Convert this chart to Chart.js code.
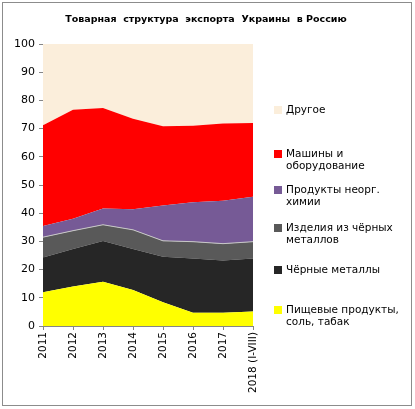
<!DOCTYPE html>
<html>
<head>
<meta charset="utf-8">
<script src="https://cdn.jsdelivr.net/npm/chart.js@4/dist/chart.umd.min.js"></script>
<style>
    html, body { margin: 0; padding: 0; background: #fff; }
    #wrap { width: 415px; height: 409px; position: relative; }
</style>
</head>
<body>
<div id="wrap"><canvas id="exportChart" width="415" height="409"></canvas></div>
<script>
// Годы
const years = ['2011', '2012', '2013', '2014', '2015', '2016', '2017', '2018 (I-VIII)'];

// Доли, % (снизу вверх)
const food      = [12.0, 14.0, 15.7, 12.8, 8.4, 4.7, 4.7, 5.1];
const ferrous   = [12.3, 13.3, 14.4, 14.5, 16.2, 19.2, 18.5, 18.8];
const steelWare = [7.2, 6.5, 5.8, 6.8, 5.6, 6.0, 6.0, 6.0];
const chemicals = [4.0, 4.2, 5.8, 7.3, 12.5, 14.0, 15.2, 15.9];
const machines  = [35.7, 38.7, 35.6, 32.1, 28.1, 27.1, 27.4, 26.2];
const other     = [28.8, 23.3, 22.7, 26.5, 29.2, 29.0, 28.2, 28.0];

const yTicks = [0, 10, 20, 30, 40, 50, 60, 70, 80, 90, 100];

const seriesNames = [
    ['Пищевые продукты,', 'соль, табак'],
    ['Чёрные металлы'],
    ['Изделия из чёрных', 'металлов'],
    ['Продукты неорг.', 'химии'],
    ['Машины и', 'оборудование'],
    ['Другое']
];
const seriesColors = ['#ffff00', '#262626', '#595959', '#765a96', '#ff0000', '#fbeedb'];
const seriesData = [food, ferrous, steelWare, chemicals, machines, other];

const FONT = '"DejaVu Sans", Verdana, sans-serif';

const datasets = seriesData.map((values, i) => ({
    label: seriesNames[i].join(' '),
    data: values,
    backgroundColor: seriesColors[i],
    borderColor: i === 2 ? '#c8c8c8' : seriesColors[i],
    borderWidth: i === 2 ? 1 : 0,
    pointRadius: 0,
    tension: 0,
    fill: i === 0 ? 'origin' : '-1'
}));

// рамка, заголовок и легенда справа
const decorPlugin = {
    id: 'decor',
    afterDraw(chart) {
        const ctx = chart.ctx;
        ctx.save();
        ctx.strokeStyle = '#8c8c8c';
        ctx.lineWidth = 1;
        ctx.strokeRect(2.5, 2.5, 409, 403);

        ctx.fillStyle = '#000';
        ctx.font = 'bold 9.5px ' + FONT;
        ctx.textAlign = 'center';
        ctx.textBaseline = 'middle';
        ctx.fillText('Товарная  структура  экспорта  Украины  в Россию', 206, 20);

        ctx.font = '10.5px ' + FONT;
        ctx.textAlign = 'left';
        const legendY = [110, 154, 190, 228, 270, 310];
        for (let i = 0; i < seriesNames.length; i++) {
            const k = seriesNames.length - 1 - i;
            const y = legendY[i];
            ctx.fillStyle = seriesColors[k];
            ctx.fillRect(274, y - 4, 8, 8);
            ctx.fillStyle = '#000';
            seriesNames[k].forEach((line, j) => {
                ctx.fillText(line, 286, y + j * 12.5);
            });
        }
        ctx.restore();
    }
};

new Chart(document.getElementById('exportChart'), {
    type: 'line',
    data: { labels: years, datasets: datasets },
    options: {
        responsive: false,
        animation: false,
        layout: { padding: { left: 4, right: 162, top: 44, bottom: 4 } },
        plugins: {
            legend: { display: false },
            title: { display: false },
            tooltip: { enabled: false }
        },
        scales: {
            x: {
                offset: false,
                grid: { display: true, drawOnChartArea: false, drawTicks: true, tickLength: 4, color: '#868686' },
                border: { color: '#868686' },
                ticks: {
                    color: '#000',
                    font: { family: FONT, size: 10.5 },
                    minRotation: 90,
                    maxRotation: 90,
                    autoSkip: false,
                    padding: 2
                },
                afterFit(scale) { scale.height = 79; }
            },
            y: {
                stacked: true,
                min: 0,
                max: 100,
                afterBuildTicks(scale) { scale.ticks = yTicks.map(v => ({ value: v })); },
                grid: { display: true, drawOnChartArea: false, drawTicks: true, tickLength: 4, color: '#868686' },
                border: { color: '#868686' },
                ticks: {
                    color: '#000',
                    font: { family: FONT, size: 11 },
                    padding: 4
                },
                afterFit(scale) { scale.width = 39; }
            }
        }
    },
    plugins: [decorPlugin]
});
</script>
</body>
</html>
